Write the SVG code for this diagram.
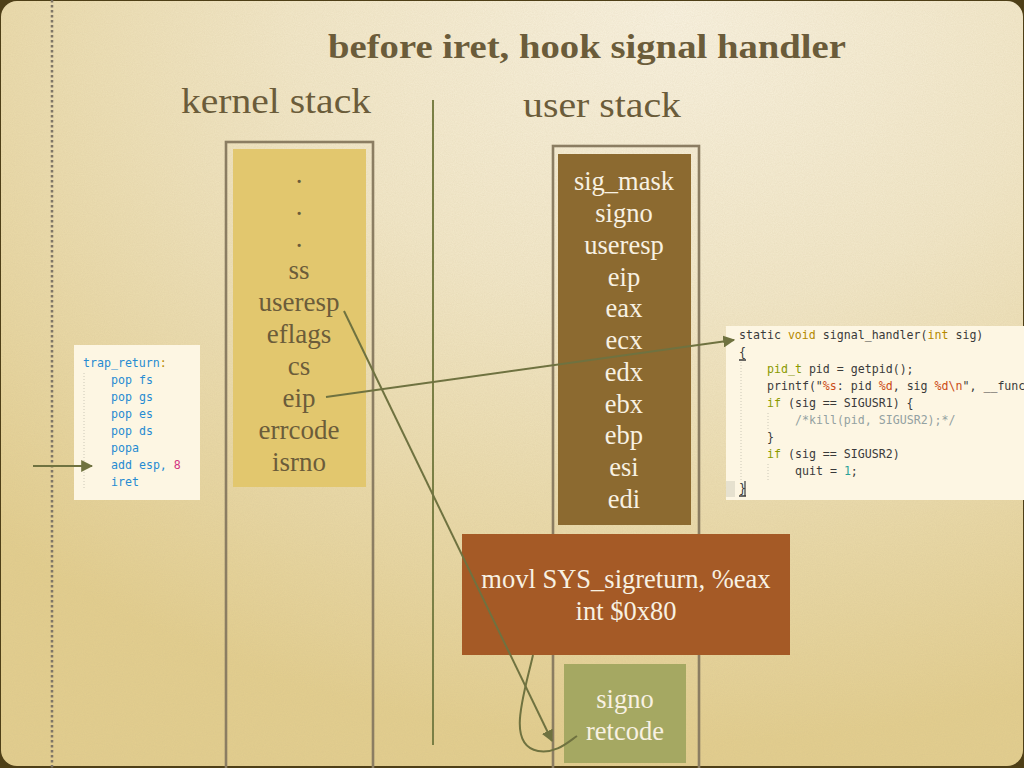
<svg xmlns="http://www.w3.org/2000/svg" width="1024" height="768" viewBox="0 0 1024 768">
<defs>
<radialGradient id="bg" cx="0.66" cy="0.02" r="0.95">
<stop offset="0" stop-color="#f8f1df"/>
<stop offset="0.4" stop-color="#f1e6c7"/>
<stop offset="1" stop-color="#e2cd8e"/>
</radialGradient>
<filter id="noise" x="0" y="0" width="100%" height="100%">
<feTurbulence type="fractalNoise" baseFrequency="0.9" numOctaves="2" seed="3" result="t"/>
<feColorMatrix type="matrix" values="0 0 0 0 0.55  0 0 0 0 0.45  0 0 0 0 0.25  0 0 0 0.35 -0.05"/>
<feComposite in2="SourceGraphic" operator="in"/>
</filter>
<marker id="ah" viewBox="0 0 10 10" refX="9" refY="5" markerWidth="6" markerHeight="6" orient="auto" markerUnits="strokeWidth">
<path d="M0,0 L10,5 L0,10 z" fill="#6f7240"/>
</marker>
<style>
.serif{font-family:"Liberation Serif","Times New Roman",serif}
.head{font-size:36px;fill:#6b5c3a}
.ki{font-size:27px;fill:#6b5c3a;text-anchor:middle}
.ui{font-size:26.5px;fill:#f8f1e2;text-anchor:middle}
.outer{fill:none;stroke:#8b7d62;stroke-width:2.6}
.mono{font-family:"DejaVu Sans Mono","Liberation Mono",monospace;font-size:11.6px;fill:#3a3a3a}
.asm{fill:#268bd2}
.kw{fill:#b58900}
.gr{fill:#8a9a00}
.rd{fill:#cb4b16}
.cm{fill:#93a1a1}
.tl{fill:#2aa198}
.mg{fill:#d33682}
.conn{fill:none;stroke:#6f7240;stroke-width:2}
</style>
</defs>
<rect x="0" y="0" width="1024" height="768" fill="#4e3f17"/>
<rect x="1" y="1" width="1022" height="765" rx="16" fill="url(#bg)"/>
<rect x="1" y="1" width="1022" height="765" rx="16" fill="#fff" filter="url(#noise)" opacity="0.6"/>
<line x1="52" y1="0" x2="52" y2="768" stroke="#7e7566" stroke-width="2.5" stroke-dasharray="2.5 2.5"/>
<text class="serif" x="587" y="58" font-size="33" font-weight="bold" fill="#6b5c3a" text-anchor="middle" textLength="518" lengthAdjust="spacingAndGlyphs">before iret, hook signal handler</text>
<text class="serif head" x="181" y="113" textLength="190" lengthAdjust="spacingAndGlyphs">kernel stack</text>
<text class="serif head" x="523" y="117" textLength="158" lengthAdjust="spacingAndGlyphs">user stack</text>
<line x1="433" y1="100" x2="433" y2="745" stroke="#7a7f45" stroke-width="2"/>
<g id="kernel-stack">
<rect class="outer" x="226" y="142" width="147" height="630"/>
<rect x="233" y="149" width="133" height="338" fill="#e2c76e"/>
<text class="serif ki" x="299" y="183">.</text>
<text class="serif ki" x="299" y="215">.</text>
<text class="serif ki" x="299" y="247">.</text>
<text class="serif ki" x="299" y="279">ss</text>
<text class="serif ki" x="299" y="311">useresp</text>
<text class="serif ki" x="299" y="343">eflags</text>
<text class="serif ki" x="299" y="375">cs</text>
<text class="serif ki" x="299" y="407">eip</text>
<text class="serif ki" x="299" y="439">errcode</text>
<text class="serif ki" x="299" y="471">isrno</text>
</g>
<g id="user-stack">
<rect class="outer" x="553" y="146" width="146" height="626"/>
<rect x="558" y="154" width="133" height="371" fill="#8c6a30"/>
<text class="serif ui" x="624" y="190">sig_mask</text>
<text class="serif ui" x="624" y="222">signo</text>
<text class="serif ui" x="624" y="254">useresp</text>
<text class="serif ui" x="624" y="286">eip</text>
<text class="serif ui" x="624" y="317">eax</text>
<text class="serif ui" x="624" y="349">ecx</text>
<text class="serif ui" x="624" y="381">edx</text>
<text class="serif ui" x="624" y="413">ebx</text>
<text class="serif ui" x="624" y="444">ebp</text>
<text class="serif ui" x="624" y="476">esi</text>
<text class="serif ui" x="624" y="508">edi</text>
</g>
<g id="sigreturn-code">
<rect x="462" y="534" width="328" height="121" fill="#a55a26"/>
<text class="serif ui" x="626" y="588">movl SYS_sigreturn, %eax</text>
<text class="serif ui" x="626" y="620">int $0x80</text>
</g>
<g id="signo-retcode">
<rect x="564" y="664" width="122" height="99" fill="#a5a862"/>
<text class="serif ui" x="625" y="708">signo</text>
<text class="serif ui" x="625" y="740">retcode</text>
</g>
<g id="trap-return">
<rect x="74" y="345" width="126" height="155" fill="#fdf6e3"/>
<line x1="84" y1="373" x2="84" y2="490" stroke="#ccc8b8" stroke-width="1" stroke-dasharray="1 2"/>
<text class="mono asm" x="83" y="367">trap_return<tspan class="kw">:</tspan></text>
<text class="mono asm" x="111" y="384">pop fs</text>
<text class="mono asm" x="111" y="401">pop gs</text>
<text class="mono asm" x="111" y="418">pop es</text>
<text class="mono asm" x="111" y="435">pop ds</text>
<text class="mono asm" x="111" y="452">popa</text>
<text class="mono asm" x="111" y="469">add esp, <tspan class="mg">8</tspan></text>
<text class="mono asm" x="111" y="486">iret</text>
</g>
<g id="signal-handler">
<rect x="726" y="326" width="298" height="174" fill="#fdf6e3"/>
<rect x="726" y="481" width="9" height="16" fill="#e6e1cf"/>
<line x1="741" y1="362" x2="741" y2="480" stroke="#ccc8b8" stroke-width="1" stroke-dasharray="1 2"/>
<line x1="768" y1="413" x2="768" y2="430" stroke="#ccc8b8" stroke-width="1" stroke-dasharray="1 2"/>
<line x1="768" y1="464" x2="768" y2="481" stroke="#ccc8b8" stroke-width="1" stroke-dasharray="1 2"/>
<text class="mono" x="739" y="339">static <tspan class="kw">void</tspan> signal_handler(<tspan class="kw">int</tspan> sig)</text>
<text class="mono" x="739" y="356">{</text>
<line x1="739" y1="360" x2="746" y2="360" stroke="#3a3a3a" stroke-width="1.5"/>
<text class="mono" x="767" y="373"><tspan class="gr">pid_t</tspan> pid = getpid();</text>
<text class="mono" x="767" y="390">printf("<tspan class="rd">%s</tspan>: pid <tspan class="rd">%d</tspan>, sig <tspan class="rd">%d\n</tspan>", __func</text>
<text class="mono" x="767" y="407"><tspan class="gr">if</tspan> (sig == SIGUSR1) {</text>
<text class="mono cm" x="795" y="424">/*kill(pid, SIGUSR2);*/</text>
<text class="mono" x="767" y="441">}</text>
<text class="mono" x="767" y="458"><tspan class="gr">if</tspan> (sig == SIGUSR2)</text>
<text class="mono" x="795" y="475">quit = <tspan class="tl">1</tspan>;</text>
<text class="mono" x="739" y="492">}</text>
<line x1="739" y1="496" x2="746" y2="496" stroke="#3a3a3a" stroke-width="1.5"/>
<line x1="745" y1="481" x2="745" y2="496" stroke="#3a3a3a" stroke-width="1.2"/>
</g>
<g id="connectors">
<line class="conn" x1="33" y1="466" x2="92" y2="466" marker-end="url(#ah)"/>
<line class="conn" x1="326" y1="397" x2="734" y2="340" marker-end="url(#ah)"/>
<line class="conn" x1="344" y1="311" x2="552" y2="741" marker-end="url(#ah)"/>
<path class="conn" d="M533,655 C524,695 506,745 538,751 C556,754 568,742 577,736"/>
</g>
</svg>
